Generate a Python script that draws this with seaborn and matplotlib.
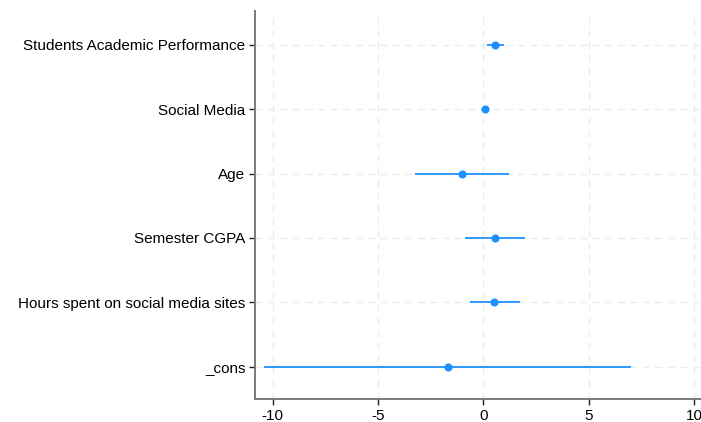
import numpy as np
import pandas as pd
import matplotlib
matplotlib.use("Agg")
import matplotlib.pyplot as plt
import seaborn as sns

variables = ["Students Academic Performance", "Social Media", "Age",
             "Semester CGPA", "Hours spent on social media sites", "_cons"]
coef = [0.57, 0.09, -1.01, 0.54, 0.52, -1.67]
ci_low = [0.18, 0.02, -3.24, -0.87, -0.65, -10.40]
ci_high = [0.97, 0.16, 1.23, 1.98, 1.71, 7.01]
xticks = [-10, -5, 0, 5, 10]

df = pd.DataFrame({"variable": variables, "coef": coef,
                   "lo": ci_low, "hi": ci_high})

sns.set_theme(style="white")
plt.rcParams["font.family"] = ["Liberation Sans", "DejaVu Sans"]

color = "#1E90FF"
fig = plt.figure(figsize=(7.01, 4.22), dpi=100)
ax = fig.add_axes([0.364, 0.055, 0.636, 0.918])

sns.pointplot(data=df, x="coef", y="variable", order=variables,
              linestyle="none", errorbar=None, color=color,
              markers="o", markersize=3.8, ax=ax, zorder=4)
ypos = np.arange(len(variables))
ax.hlines(ypos, df["lo"], df["hi"], color=color, lw=1.3, zorder=3)

ax.set_xlim(-10.83, 10.32)
ax.set_ylim(len(variables) - 0.5, -0.52)
ax.set_xticks(xticks)
ax.set_xticklabels([str(t) for t in xticks])
ax.set_xlabel("")
ax.set_ylabel("")

ax.grid(True, axis="both", color="#ebebeb", linestyle=(0, (5, 4)), lw=1.0)
ax.set_axisbelow(True)
for s in ["top", "right"]:
    ax.spines[s].set_visible(False)
for s in ["left", "bottom"]:
    ax.spines[s].set_color("#7a7a7a")
    ax.spines[s].set_linewidth(1.4)
ax.tick_params(axis="both", which="both", direction="out", length=4,
               width=1, color="#222222", labelsize=11, labelcolor="black",
               pad=3, left=True, bottom=True)

fig.savefig("out.png", dpi=100)
